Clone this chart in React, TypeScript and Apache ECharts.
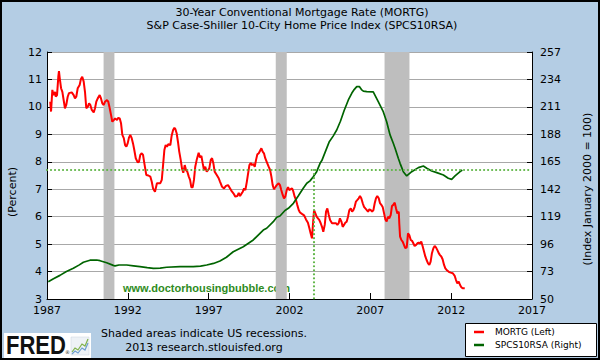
import React, { useEffect, useRef } from "react";
import * as echarts from "echarts";

// ---- data ----
const mortgYears = [
  1987.2, 1987.25, 1987.33, 1987.41, 1987.5, 1987.54, 1987.62, 1987.7, 1987.74, 1987.79, 1987.87, 1987.95,
  1988.03, 1988.11, 1988.19, 1988.28, 1988.36, 1988.53, 1988.65, 1988.73, 1988.81, 1988.9,
  1989.02, 1989.1, 1989.18, 1989.27, 1989.35, 1989.43, 1989.52, 1989.6, 1989.68, 1989.77, 1989.89, 1989.97,
  1990.05, 1990.14, 1990.26, 1990.34, 1990.42, 1990.51, 1990.59, 1990.71, 1990.79, 1990.88, 1990.96,
  1991.04, 1991.13, 1991.21, 1991.33, 1991.41, 1991.5, 1991.58, 1991.66, 1991.75, 1991.83, 1991.91, 1991.99,
  1992.07, 1992.15, 1992.24, 1992.32, 1992.4, 1992.49, 1992.61, 1992.69, 1992.77, 1992.86, 1992.94,
  1993.02, 1993.14, 1993.27, 1993.39, 1993.48, 1993.56, 1993.68, 1993.8, 1993.89,
  1994.01, 1994.1, 1994.18, 1994.26, 1994.34, 1994.42, 1994.5, 1994.63, 1994.71, 1994.8, 1994.88, 1994.94,
  1995.02, 1995.1, 1995.18, 1995.27, 1995.35, 1995.43, 1995.52, 1995.6, 1995.68, 1995.77, 1995.85, 1995.93,
  1996.01, 1996.09, 1996.17, 1996.26, 1996.38, 1996.46, 1996.55, 1996.63, 1996.71, 1996.79, 1996.88, 1996.96,
  1997.04, 1997.13, 1997.21, 1997.29, 1997.37, 1997.5, 1997.62, 1997.7, 1997.83, 1997.95,
  1998.07, 1998.2, 1998.28, 1998.4, 1998.53, 1998.65, 1998.77, 1998.86, 1998.94,
  1999.02, 1999.11, 1999.19, 1999.27, 1999.36, 1999.44, 1999.52, 1999.6, 1999.68, 1999.77, 1999.85, 1999.93,
  2000.01, 2000.1, 2000.18, 2000.26, 2000.34, 2000.42, 2000.5, 2000.59, 2000.71, 2000.8, 2000.88, 2000.96,
  2001.04, 2001.12, 2001.21, 2001.33, 2001.41, 2001.49, 2001.58, 2001.66, 2001.74, 2001.83, 2001.91, 2001.99,
  2002.07, 2002.16, 2002.24, 2002.32, 2002.4, 2002.48, 2002.57, 2002.65, 2002.77, 2002.9,
  2003.02, 2003.14, 2003.23, 2003.31, 2003.39, 2003.47, 2003.52, 2003.6, 2003.68, 2003.76, 2003.84, 2003.93,
  2004.01, 2004.09, 2004.18, 2004.26, 2004.34, 2004.43, 2004.51, 2004.63, 2004.76, 2004.88, 2004.96,
  2005.04, 2005.12, 2005.21, 2005.29, 2005.37, 2005.45, 2005.54, 2005.62, 2005.7, 2005.79, 2005.87, 2005.95,
  2006.03, 2006.11, 2006.2, 2006.28, 2006.36, 2006.44, 2006.53, 2006.61, 2006.69, 2006.78, 2006.86, 2006.94,
  2007.03, 2007.11, 2007.19, 2007.27, 2007.35, 2007.43, 2007.52, 2007.6, 2007.68, 2007.77, 2007.85, 2007.93,
  2008.01, 2008.09, 2008.17, 2008.26, 2008.34, 2008.42, 2008.51, 2008.59, 2008.67, 2008.76, 2008.79, 2008.84, 2008.92,
  2009.0, 2009.08, 2009.16, 2009.25, 2009.33, 2009.41, 2009.5, 2009.58, 2009.66, 2009.74, 2009.83, 2009.91, 2009.99,
  2010.07, 2010.15, 2010.24, 2010.32, 2010.4, 2010.48, 2010.57, 2010.65, 2010.73, 2010.81, 2010.9, 2010.98,
  2011.06, 2011.14, 2011.23, 2011.31, 2011.39, 2011.47, 2011.56, 2011.64, 2011.72, 2011.85, 2011.97,
  2012.1, 2012.22, 2012.3, 2012.38, 2012.47, 2012.55, 2012.63, 2012.71, 2012.84,
];
const mortgValues = [
  10.19, 9.83, 10.62, 10.43, 10.55, 10.37, 10.43, 11.1, 11.3, 11.04, 10.68, 10.55,
  10.25, 9.95, 10.07, 10.37, 10.5, 10.53, 10.43, 10.31, 10.37, 10.68,
  10.8, 11.02, 11.1, 10.92, 10.55, 9.95, 10.0, 10.13, 10.07, 9.89, 9.8, 9.95,
  10.19, 10.31, 10.43, 10.31, 10.13, 10.07, 10.19, 10.25, 10.19, 9.95, 9.71,
  9.46, 9.52, 9.58, 9.52, 9.6, 9.58, 9.4, 8.98, 8.86, 8.61, 8.55, 8.67,
  8.88, 8.98, 8.86, 8.67, 8.43, 8.13, 7.98, 8.0, 8.25, 8.31, 8.25,
  7.95, 7.52, 7.5, 7.46, 7.27, 7.03, 6.91, 7.22, 7.22,
  7.22, 7.34, 7.88, 8.43, 8.61, 8.55, 8.64, 8.61, 8.95, 9.16, 9.24, 9.19,
  9.04, 8.73, 8.37, 8.07, 7.76, 7.6, 7.88, 7.7, 7.64, 7.46, 7.34, 7.07,
  7.07, 7.34, 7.82, 8.07, 8.33, 8.16, 8.21, 7.95, 7.7, 7.82, 7.64, 7.7,
  7.76, 8.07, 8.13, 7.95, 7.64, 7.52, 7.4, 7.28, 7.09, 7.03,
  7.12, 7.15, 7.07, 6.95, 6.85, 6.73, 6.75, 6.87, 6.75,
  6.83, 6.91, 7.03, 6.97, 7.27, 7.58, 7.88, 7.95, 7.88, 7.92, 7.82, 8.07,
  8.27, 8.31, 8.4, 8.49, 8.37, 8.31, 8.13, 8.0, 7.82, 7.7, 7.46, 7.15,
  7.0, 7.07, 7.15, 7.22, 7.15, 6.97, 6.79, 6.67, 6.73, 6.97, 7.07, 6.97,
  7.0, 7.03, 6.91, 6.73, 6.61, 6.43, 6.24, 6.15, 6.1, 6.05,
  5.9, 5.78, 5.58, 5.39, 5.21, 5.88, 6.24, 6.12, 6.0, 5.94, 5.88, 5.76,
  5.63, 5.45, 5.7, 6.18, 6.3, 6.06, 5.88, 5.76, 5.76, 5.76, 5.7,
  5.76, 5.94, 5.82, 5.63, 5.7, 5.78, 5.82, 6.0, 6.24, 6.3, 6.18, 6.24,
  6.36, 6.55, 6.61, 6.67, 6.75, 6.67, 6.49, 6.36, 6.3, 6.24, 6.18, 6.27,
  6.24, 6.18, 6.24, 6.49, 6.67, 6.75, 6.67, 6.49, 6.43, 6.34, 6.12, 5.9,
  5.82, 6.0, 5.94, 6.06, 6.39, 6.43, 6.51, 6.3, 6.12, 6.18, 5.76, 5.27, 5.15,
  5.09, 4.97, 4.85, 4.88, 5.39, 5.33, 5.15, 5.12, 5.03, 4.93, 4.97, 5.03, 5.05,
  5.03, 5.09, 4.91, 4.73, 4.55, 4.42, 4.3, 4.24, 4.36, 4.67, 4.85, 4.93,
  4.88, 4.79, 4.67, 4.6, 4.55, 4.45, 4.24, 4.12, 4.06, 3.99, 3.96,
  3.94, 3.84, 3.69, 3.57, 3.63, 3.51, 3.43, 3.39, 3.39,
];
const spcsYears = [
  1987.08, 1987.4, 1987.8, 1988.2, 1988.63, 1989.0, 1989.25, 1989.66, 1990.07, 1990.28, 1990.69,
  1991.1, 1991.21, 1991.45, 1991.93, 1992.35, 1992.75, 1993.2, 1993.58, 1994.0, 1994.4, 1995.23,
  1996.05, 1996.5, 1996.88, 1997.3, 1997.7, 1998.1, 1998.52, 1999.14, 1999.76, 2000.38, 2000.59,
  2001.0, 2001.21, 2001.41, 2001.72, 2001.93, 2002.24, 2002.55, 2002.85, 2003.07, 2003.27, 2003.47,
  2003.68, 2003.89, 2004.0, 2004.45, 2004.7, 2004.92, 2005.15, 2005.38, 2005.64, 2005.85, 2006.0,
  2006.16, 2006.32, 2006.45, 2006.57, 2006.78, 2007.18, 2007.49, 2007.8, 2008.01, 2008.22, 2008.42,
  2008.53, 2008.73, 2008.84, 2009.04, 2009.25, 2009.56, 2009.97, 2010.28, 2010.49, 2010.8, 2011.11,
  2011.52, 2011.82, 2012.03, 2012.24, 2012.55, 2012.69,
];
const spcsValues = [
  64.5, 67.0, 69.8, 73.0, 75.7, 78.6, 80.8, 82.5, 82.7, 82.1, 80.4,
  78.2, 77.7, 78.5, 78.5, 77.8, 77.1, 76.3, 75.7, 75.9, 76.6, 77.1,
  77.1, 77.5, 78.5, 79.8, 81.8, 85.0, 89.6, 93.8, 99.5, 107.8, 109.3,
  114.8, 118.5, 119.6, 124.2, 126.0, 130.2, 136.5, 142.8, 147.0, 149.0, 152.5,
  156.7, 163.7, 166.0, 181.5, 186.5, 191.6, 199.0, 208.0, 216.8, 222.4, 225.5,
  228.0, 228.0, 225.5, 224.2, 223.8, 223.5, 215.4, 207.0, 198.6, 187.5, 180.5,
  176.3, 167.9, 163.7, 156.7, 153.1, 156.7, 160.1, 161.5, 159.6, 157.3, 155.9,
  153.9, 151.2, 150.3, 153.1, 156.7, 158.1,
];
const recessionStart = [1990.5, 2001.15, 2007.88];
const recessionEnd = [1991.17, 2001.83, 2009.42];
const currentIndexLevel = 158.1;
const lastSameLevelYear = 2003.52;

const X_BASE = 1987; // first x tick
const Y2_BASE = 50; // first right-axis tick

const titleLines = [
  "30-Year Conventional Mortgage Rate (MORTG)",
  "S&P Case-Shiller 10-City Home Price Index (SPCS10RSA)",
];
const seriesNames = ["MORTG (Left)", "SPCS10RSA (Right)"];
const seriesColors = ["#ff0000", "#006400"];

export default function App() {
  const ref = useRef<HTMLDivElement>(null);
  useEffect(() => {
    const chart = echarts.init(ref.current!, null, { renderer: "svg" });
    const font = "DejaVu Sans";
    const redData = mortgYears.map((y, i) => [y - X_BASE, mortgValues[i]]);
    const greenData = spcsYears.map((y, i) => [y - X_BASE, spcsValues[i] - Y2_BASE]);
    const areas = recessionStart.map((s, i) => [
      { xAxis: s - X_BASE },
      { xAxis: recessionEnd[i] - X_BASE },
    ]);
    const lvl = currentIndexLevel - Y2_BASE;
    const vx = lastSameLevelYear - X_BASE;
    const dotted = { color: "#5fb546", width: 2.2, type: [0.01, 4] as any, cap: "round" };

    chart.setOption({
      animation: false,
      backgroundColor: "#b4cde4",
      grid: {
        left: 47, right: 68, top: 52, bottom: 61,
        show: true, backgroundColor: "#ffffff", borderWidth: 0,
      },
      xAxis: {
        type: "value", min: 0, max: 30, interval: 5,
        axisLine: { show: true, onZero: false, lineStyle: { color: "#000", width: 1 } },
        axisTick: { show: true, inside: true, length: 6, lineStyle: { color: "#000" } },
        axisLabel: {
          color: "#000", fontFamily: font, fontSize: 11, margin: 6,
          formatter: (v: number) => String(v + X_BASE),
        },
        splitLine: { show: false },
      },
      yAxis: [
        {
          type: "value", min: 3, max: 12, interval: 1, position: "left",
          axisLine: { show: true, lineStyle: { color: "#000", width: 1 } },
          axisTick: { show: true, inside: true, length: 5, lineStyle: { color: "#000" } },
          axisLabel: { color: "#000", fontFamily: font, fontSize: 11, margin: 5 },
          splitLine: { show: true, lineStyle: { color: "#a8a8a8", width: 1 } },
        },
        {
          type: "value", min: 0, max: 207, interval: 23, position: "right",
          axisLine: { show: true, lineStyle: { color: "#000", width: 1 } },
          axisTick: { show: true, inside: true, length: 5, lineStyle: { color: "#000" } },
          axisLabel: {
            color: "#000", fontFamily: font, fontSize: 11, margin: 8,
            formatter: (v: number) => String(v + Y2_BASE),
          },
          splitLine: { show: false },
        },
      ],
      series: [
        {
          name: seriesNames[0], type: "line", data: redData, yAxisIndex: 0,
          showSymbol: false, symbol: "none",
          lineStyle: { color: seriesColors[0], width: 2 },
          markArea: {
            silent: true,
            itemStyle: { color: "#bebebe", opacity: 1 },
            data: areas,
          },
        },
        {
          name: seriesNames[1], type: "line", data: greenData, yAxisIndex: 1,
          showSymbol: false, symbol: "none",
          lineStyle: { color: seriesColors[1], width: 1.7 },
          markLine: {
            silent: true, symbol: "none", label: { show: false },
            lineStyle: dotted,
            data: [
              { yAxis: lvl },
              [{ coord: [vx, lvl] }, { coord: [vx, 0] }],
            ],
          },
        },
      ],
      graphic: [
        {
          type: "text", x: 302, y: 12,
          style: { text: titleLines[0], fontFamily: font, fontSize: 11, fill: "#000", align: "center", verticalAlign: "middle" },
        },
        {
          type: "text", x: 302, y: 25.5,
          style: { text: titleLines[1], fontFamily: font, fontSize: 11, fill: "#000", align: "center", verticalAlign: "middle" },
        },
        {
          type: "text", x: 12.5, y: 192, rotation: Math.PI / 2,
          style: { text: "(Percent)", fontFamily: font, fontSize: 11, fill: "#000", align: "center", verticalAlign: "middle" },
        },
        {
          type: "text", x: 587.5, y: 189, rotation: Math.PI / 2,
          style: { text: "(Index January 2000 = 100)", fontFamily: font, fontSize: 11, fill: "#000", align: "center", verticalAlign: "middle" },
        },
        {
          type: "text", x: 123, y: 288,
          style: { text: "www.doctorhousingbubble.com", fontFamily: "Liberation Sans", fontWeight: "bold", fontSize: 11, fill: "#2e8b22", align: "left", verticalAlign: "middle" },
        },
        {
          type: "text", x: 204, y: 333.5,
          style: { text: "Shaded areas indicate US recessions.", fontFamily: font, fontSize: 11, fill: "#000", align: "center", verticalAlign: "middle" },
        },
        {
          type: "text", x: 204, y: 347.5,
          style: { text: "2013 research.stlouisfed.org", fontFamily: font, fontSize: 11, fill: "#000", align: "center", verticalAlign: "middle" },
        },
        // legend
        {
          type: "rect", shape: { x: 465.5, y: 323.5, width: 131, height: 33 },
          style: { fill: "#fff", stroke: "#000", lineWidth: 1 },
        },
        {
          type: "line", shape: { x1: 474, y1: 332, x2: 484, y2: 332 },
          style: { stroke: seriesColors[0], lineWidth: 2.5 },
        },
        {
          type: "line", shape: { x1: 474, y1: 345, x2: 484, y2: 345 },
          style: { stroke: seriesColors[1], lineWidth: 2.5 },
        },
        {
          type: "text", x: 495, y: 332,
          style: { text: seriesNames[0], fontFamily: font, fontSize: 9, fill: "#000", align: "left", verticalAlign: "middle" },
        },
        {
          type: "text", x: 495, y: 345,
          style: { text: seriesNames[1], fontFamily: font, fontSize: 9, fill: "#000", align: "left", verticalAlign: "middle" },
        },
        // FRED logo
        {
          type: "rect", shape: { x: 4, y: 333, width: 87, height: 25 },
          style: { fill: "#ffffff" },
        },
        {
          type: "text", x: 6, y: 345.5, scaleX: 0.88,
          style: { text: "FRED", fontFamily: "Liberation Sans", fontWeight: "bold", fontSize: 25, fill: "#111", align: "left", verticalAlign: "middle" },
        },
        {
          type: "text", x: 65, y: 352,
          style: { text: "®", fontFamily: font, fontSize: 5, fill: "#333", align: "left", verticalAlign: "middle" },
        },
        {
          type: "rect", shape: { x: 71, y: 337, width: 18, height: 18 },
          style: { fill: "#eef2f6", stroke: "#c8d2dc", lineWidth: 0.5 },
        },
        {
          type: "polyline", shape: { points: [[72, 352], [75, 348], [78, 350], [82, 344], [85, 346], [88, 339]] },
          style: { stroke: "#7fb24a", lineWidth: 1.2, fill: "none" },
        },
        {
          type: "polyline", shape: { points: [[72, 354], [75, 351], [78, 353], [82, 348], [85, 350], [88, 343]] },
          style: { stroke: "#6f9fd0", lineWidth: 1.2, fill: "none" },
        },
        // outer border
        {
          type: "rect", z: 100, shape: { x: 1, y: 1, width: 598, height: 358 },
          style: { fill: "none", stroke: "#000", lineWidth: 2 },
        },
      ],
    });
    return () => chart.dispose();
  }, []);
  return (
    <div
      ref={ref}
      style={{ position: "fixed", left: 0, top: 0, width: 600, height: 360 }}
    />
  );
}
